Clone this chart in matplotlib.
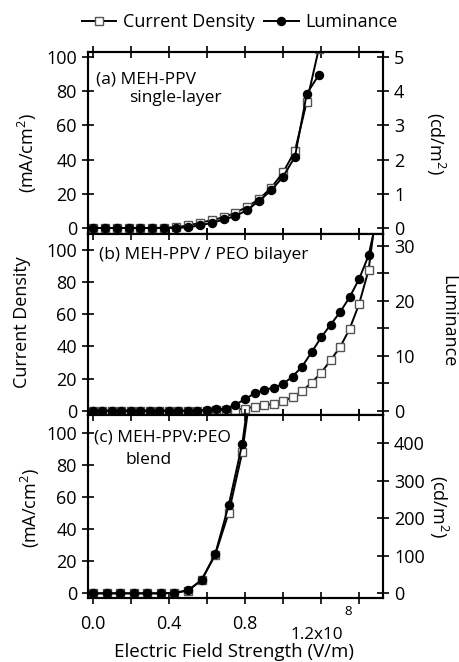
import matplotlib
matplotlib.use("Agg")
import matplotlib.pyplot as plt
from matplotlib.ticker import MultipleLocator, FixedLocator, FixedFormatter
from matplotlib.lines import Line2D

plt.rcParams['font.family'] = ['Open Sans', 'DejaVu Sans']
plt.rcParams['mathtext.fontset'] = 'custom'
plt.rcParams['mathtext.rm'] = 'Open Sans'
plt.rcParams['mathtext.it'] = 'Open Sans'

# electric field (units of 1e8 V/m) for each device
field_a = [0.0, 0.0625, 0.125, 0.1875, 0.25, 0.3125, 0.375, 0.4375, 0.5, 0.5625,
           0.625, 0.6875, 0.75, 0.8125, 0.875, 0.9375, 1.0, 1.0625, 1.125, 1.1875]
field_b = [0.0, 0.05, 0.1, 0.15, 0.2, 0.25, 0.3, 0.35, 0.4, 0.45, 0.5, 0.55, 0.6,
           0.65, 0.7, 0.75, 0.8, 0.85, 0.9, 0.95, 1.0, 1.05, 1.1, 1.15, 1.2, 1.25,
           1.3, 1.35, 1.4, 1.45, 1.5]
field_c = [0.0, 0.0714, 0.1429, 0.2143, 0.2857, 0.3571, 0.4286, 0.5, 0.5714,
           0.6429, 0.7143, 0.7857, 0.8571]

# current density (mA/cm^2)
current_a = [0, 0, 0, 0, 0, 0, 0.2, 0.5, 1.5, 3, 4.6, 6.3, 9, 12.5, 17, 23.5,
             32.5, 45, 73.9, 104.5]
current_b = [0, 0, 0, 0, 0, 0, 0, 0, 0, 0, 0, 0, 0.1, 0.2, 0.3, 0.5, 1.3, 2.5,
             3.3, 4.3, 5.8, 8.6, 12, 17.5, 23.4, 31.4, 39.5, 50.8, 66.3, 87.5, 133]
current_c = [0, 0, 0, 0, 0, 0, 0.3, 1.7, 8.3, 24, 50.4, 88.3, 150]

# luminance (cd/m^2)
lum_a = [0, 0, 0, 0, 0, 0, 0, 0, 0.025, 0.075, 0.15, 0.25, 0.35, 0.53, 0.8,
         1.1, 1.5, 2.08, 3.93, 4.47]
lum_b = [0, 0, 0, 0, 0, 0, 0, 0, 0, 0, 0, 0, 0.1, 0.25, 0.4, 1.1, 2.1, 3.15,
         3.75, 4.2, 4.85, 6.2, 8.0, 10.6, 13.3, 15.6, 17.9, 20.6, 23.9, 28.2, 36]
lum_c = [0, 0, 0, 0, 0, 0, 1.3, 8, 35, 104, 235, 399, 660]

W, H = 460, 662


def px(x, y):
    # pixel position (from top-left) -> figure fraction
    return x / W, 1 - y / H


fig = plt.figure(figsize=(4.6, 6.62), dpi=100)

left, width = 88 / W, 295 / W
rows = [(52, 234), (234, 415), (415, 598)]
panels = [
    (field_a, current_a, lum_a, (-3.5, 103), (-0.175, 5.15), 1, None),
    (field_b, current_b, lum_b, (-2.7, 110), (-0.78, 32.1), 10, 5),
    (field_c, current_c, lum_c, (-2.9, 111.5), (-12.5, 475), 100, None),
]

lw = 1.5
tick_kw = dict(direction='inout', length=8, width=1.2, labelsize=13, pad=4)

axes = []
for (top, bot), (fx, cur, lum, ylim_l, ylim_r, rstep, rminor) in zip(rows, panels):
    ax = fig.add_axes([left, 1 - bot / H, width, (bot - top) / H])
    ax2 = ax.twinx()
    ax.plot(fx, cur, color='black', lw=1.4, marker='s', ms=5.5,
            mfc='white', mec='#555555', mew=1.0, zorder=3)
    ax2.plot(fx, lum, color='black', lw=1.4, marker='o', ms=5.8,
             mfc='black', mec='black', zorder=3)
    ax.set_xlim(-0.026, 1.526)
    ax.set_ylim(*ylim_l)
    ax2.set_ylim(*ylim_r)
    ax.xaxis.set_major_locator(MultipleLocator(0.2))
    ax.yaxis.set_major_locator(MultipleLocator(20))
    ax2.yaxis.set_major_locator(MultipleLocator(rstep))
    if rminor:
        ax2.yaxis.set_minor_locator(MultipleLocator(rminor))
        ax2.tick_params(which='minor', direction='inout', length=8, width=1.2)
    ax.tick_params(axis='both', top=True, **tick_kw)
    ax2.tick_params(axis='y', **tick_kw)
    ax.set_xticklabels([])
    for a in (ax, ax2):
        for s in a.spines.values():
            s.set_linewidth(lw)
    axes.append(ax)

# x tick labels on bottom panel
axb = axes[-1]
xt = [0.0, 0.2, 0.4, 0.6, 0.8, 1.0, 1.2, 1.4]
axb.xaxis.set_major_locator(FixedLocator(xt))
axb.xaxis.set_major_formatter(FixedFormatter(["0.0", "", "0.4", "", "0.8", "", "", ""]))
axb.tick_params(axis='x', pad=8)
fig.text(*px(291, 639), "1.2x10", ha='left', va='baseline', fontsize=12.3)
fig.text(*px(344, 615), "8", ha='left', va='baseline', fontsize=9.5)
fig.text(*px(234, 652), "Electric Field Strength (V/m)",
         ha='center', va='center', fontsize=13.5)

# panel titles
title_kw = dict(ha='left', va='center', fontsize=12.5)
fig.text(*px(96, 79), "(a) MEH-PPV", **title_kw)
fig.text(*px(129, 98), "single-layer", **title_kw)
fig.text(*px(99, 255), "(b) MEH-PPV / PEO bilayer", **title_kw)
fig.text(*px(94, 437), "(c) MEH-PPV:PEO", **title_kw)
fig.text(*px(126, 460), "blend", **title_kw)

# axis labels
lab_kw = dict(ha='center', va='center', fontsize=13)
fig.text(*px(27, 153), "(mA/cm$^2$)", rotation=90, **lab_kw)
fig.text(*px(22, 322), "Current Density", rotation=90, **lab_kw)
fig.text(*px(30, 508), "(mA/cm$^2$)", rotation=90, **lab_kw)
fig.text(*px(436, 143), "(cd/m$^2$)", rotation=270, **lab_kw)
fig.text(*px(448, 321), "Luminance", rotation=270, **lab_kw)
fig.text(*px(439, 506), "(cd/m$^2$)", rotation=270, **lab_kw)

# legend
handles = [Line2D([], [], color='black', lw=1.4, marker='s', ms=5.5, mfc='white', mec='#555555'),
           Line2D([], [], color='black', lw=1.4, marker='o', ms=5.8, mfc='black')]
fig.legend(handles, ["Current Density", "Luminance"], loc='center',
           bbox_to_anchor=(240 / W, 1 - 22 / H), ncol=2, frameon=False,
           fontsize=13, handlelength=1.9, handletextpad=0.4, columnspacing=0.5)

fig.savefig("out.png", dpi=100)
